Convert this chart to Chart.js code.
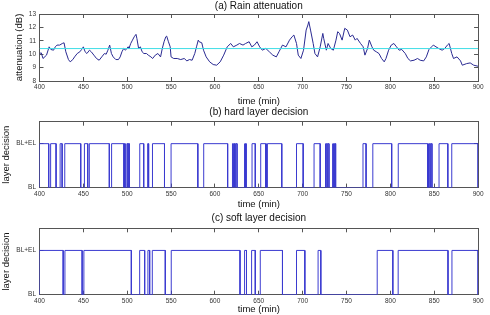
<!DOCTYPE html>
<html>
<head>
<meta charset="utf-8">
<script src="https://cdn.jsdelivr.net/npm/chart.js@4"></script>
<style>
  body { margin: 0; background: #fff; }
  canvas { position: absolute; left: 0; }
</style>
</head>
<body>
<canvas id="chart-a" width="490" height="107" style="top:0px"></canvas>
<canvas id="chart-b" width="490" height="103" style="top:107px"></canvas>
<canvas id="chart-c" width="490" height="105" style="top:210px"></canvas>
<script>
// (a) rain attenuation
const rainTime = [
    400, 402, 404, 408, 411, 413, 416, 418, 420, 423,
    426, 428, 430, 433, 435, 438, 440, 443, 446, 448,
    450, 452, 454, 457, 459, 462, 465, 468, 471, 474,
    476, 478, 480, 482, 484, 487, 490, 492, 494, 496,
    498, 501, 502, 504, 506, 508, 510, 511, 513, 515,
    517, 519, 522, 524, 527, 529, 532, 535, 538, 540,
    542, 544, 545, 547, 549, 550, 553, 557, 561, 565,
    568, 571, 574, 577, 579, 581, 582, 585, 587, 590,
    594, 598, 602, 606, 610, 614, 618, 621, 625, 628,
    632, 635, 639, 642, 645, 648, 651, 654, 658, 662,
    666, 670, 673, 677, 681, 685, 688, 690, 693, 695,
    698, 701, 704, 706, 707, 709, 712, 714, 717, 720,
    723, 724, 727, 729, 732, 735, 738, 740, 742, 745,
    748, 751, 754, 757, 760, 762, 766, 769, 771, 774,
    776, 779, 781, 784, 787, 790, 793, 795, 798, 801,
    804, 807, 810, 813, 817, 820, 823, 827, 831, 834,
    838, 841, 844, 847, 849, 852, 855, 859, 862, 865,
    867, 870, 872, 876, 880, 882, 887, 891, 895, 900
];
const rainDb = [
    10.05, 10.1, 9.68, 9.93, 10.55, 10.35, 10.3, 10.55, 10.68, 10.68,
    10.8, 10.85, 10.18, 9.6, 9.43, 9.6, 9.8, 10.05, 10.18, 10.35,
    10.55, 10.18, 10.05, 10.3, 10.18, 9.93, 9.68, 9.55, 9.8, 10.05,
    10.0, 10.3, 10.68, 10.05, 9.8, 9.6, 9.6, 9.8, 10.18, 10.43,
    10.3, 10.55, 10.43, 10.8, 11.05, 11.3, 11.48, 11.18, 10.43, 10.55,
    10.18, 10.05, 10.05, 9.93, 9.8, 9.68, 9.93, 10.05, 9.8, 10.43,
    10.93, 11.3, 11.35, 10.93, 10.55, 9.8, 9.68, 9.68, 9.6, 9.68,
    9.5, 9.6, 9.55, 10.05, 10.55, 11.05, 10.93, 10.85, 10.3, 9.8,
    9.43, 9.23, 9.18, 9.43, 9.93, 10.55, 10.8, 10.55, 10.68, 10.8,
    10.68, 10.8, 10.93, 10.55, 10.68, 10.93, 10.55, 10.3, 10.43, 10.18,
    9.93, 9.8, 10.18, 10.68, 10.55, 11.05, 11.3, 11.43, 10.8, 9.93,
    9.68, 10.3, 11.8, 12.18, 12.43, 11.8, 10.8, 10.05, 9.8, 10.55,
    11.55, 11.18, 10.3, 10.8, 10.43, 10.3, 11.05, 11.68, 11.55, 11.05,
    11.93, 11.8, 11.3, 11.43, 11.05, 11.18, 10.8, 10.55, 9.93, 10.43,
    11.05, 10.55, 10.3, 10.18, 10.05, 9.68, 9.43, 9.68, 10.3, 10.68,
    10.8, 10.55, 10.3, 10.35, 10.05, 9.68, 9.5, 9.55, 9.68, 9.55,
    9.5, 9.8, 10.35, 10.55, 10.68, 10.55, 10.43, 10.3, 10.43, 10.68,
    10.8, 10.05, 9.68, 9.8, 9.5, 9.18, 9.3, 9.35, 9.18, 9.1
];
const threshold = 10.42;

// (b) hard decision: intervals where BL+EL is sent
const hardStart = [400, 412.7, 423.5, 428.8, 451.2, 456.8, 482.2, 497, 499.6, 501.2,
    514.3, 523.3, 528.8, 550, 587.2, 620, 621.6, 623.4, 633.4, 634.8,
    642.3, 652.2, 658.4, 659.8, 693, 713, 725.6, 727, 728.4, 733.8,
    735.2, 736.6, 768.8, 780, 809, 843, 844.4, 845.8, 855.5, 870];
const hardEnd = [410.5, 418.9, 425.8, 447, 455, 479.6, 496.2, 497.6, 500.8, 502.4,
    518.8, 524.4, 542.5, 580.5, 614.5, 620.8, 622.4, 625.2, 634.2, 635.6,
    646, 657.8, 659.2, 676.2, 700.6, 720, 726.4, 727.8, 730, 734.6,
    736, 737.6, 772.3, 801.5, 842.4, 843.8, 845.2, 847.4, 865.5, 900];

// (c) soft decision
const softStart = [400, 429, 450.6, 514.2, 523.6, 528.6, 550.2, 633.8, 641.8, 651.7,
    693, 717.6, 785, 808.9, 870.2];
const softEnd = [427, 448.6, 504.7, 519.9, 525.6, 543.4, 628.6, 636, 646, 677,
    702.5, 720.7, 802.8, 865.7, 900];

const timeMin = 400, timeMax = 900, timeStep = 50;
const layerTicks = [0, 1];
const layerLabels = ['BL', 'BL+EL'];

const FONT = "'Liberation Sans', Arial, sans-serif";
const FRAME = '#555';
const tickFont = { family: FONT, size: 6.5 };
const labelFont = { family: FONT, size: 9.5 };

const pulsesToPoints = (starts, ends) => {
    const pts = [];
    starts.forEach((s, i) => {
        pts.push({ x: s, y: 0 }, { x: s, y: 1 }, { x: ends[i], y: 1 }, { x: ends[i], y: 0 });
    });
    return pts;
};

const grid = { drawOnChartArea: false, drawTicks: true, tickLength: -4, color: FRAME, lineWidth: 1 };
const border = { color: FRAME, width: 1 };

const makeScales = (cfg) => {
    const yTicks = cfg.layer
        ? { font: tickFont, color: '#333', padding: 7.5, callback: (v, i) => layerLabels[i] }
        : { font: tickFont, color: '#333', padding: 7.5, stepSize: 1 };
    const fixTicks = cfg.layer ? (scale) => { scale.ticks = layerTicks.map(v => ({ value: v })); } : undefined;
    return {
        x: {
            type: 'linear', position: 'bottom', min: timeMin, max: timeMax,
            ticks: { stepSize: timeStep, font: tickFont, color: '#333', padding: 6.5, maxRotation: 0 },
            grid, border,
            title: { display: true, text: 'time (min)', font: labelFont, color: '#111', padding: { top: 0, bottom: cfg.xTitlePad } },
            afterFit: (scale) => { scale.height = cfg.xHeight; }
        },
        x2: {
            type: 'linear', position: 'top', axis: 'x', min: timeMin, max: timeMax,
            ticks: { stepSize: timeStep, display: false },
            grid, border,
            afterFit: (scale) => { scale.height = 0; }
        },
        y: {
            type: 'linear', position: 'left', min: cfg.yMin, max: cfg.yMax,
            ticks: yTicks, grid, border,
            afterBuildTicks: fixTicks,
            title: { display: true, text: cfg.yTitle, font: labelFont, color: '#111', padding: { top: cfg.yTitlePad, bottom: 0 } },
            afterFit: (scale) => { scale.width = 39.5; }
        },
        y2: {
            type: 'linear', position: 'right', axis: 'y', min: cfg.yMin, max: cfg.yMax,
            ticks: { stepSize: 1, display: false }, grid, border,
            afterBuildTicks: fixTicks,
            afterFit: (scale) => { scale.width = 0; }
        }
    };
};

const makeChart = (id, datasets, title, titlePad, scaleCfg) => new Chart(document.getElementById(id), {
    type: 'line',
    data: { datasets },
    options: {
        responsive: false,
        animation: false,
        layout: { padding: { left: 0, right: 11, top: 0, bottom: 0 } },
        elements: { point: { radius: 0 }, line: { borderWidth: 1, tension: 0 } },
        plugins: {
            legend: { display: false },
            tooltip: { enabled: false },
            title: {
                display: true, text: title, fullSize: false, color: '#111',
                font: { family: FONT, size: 10, weight: 'normal', lineHeight: 1.1 },
                padding: titlePad
            }
        },
        scales: makeScales(scaleCfg)
    }
});

makeChart('chart-a', [
    {
        data: [{ x: timeMin, y: threshold }, { x: timeMax, y: threshold }],
        borderColor: '#3fdde6'
    },
    {
        data: rainTime.map((t, i) => ({ x: t, y: rainDb[i] })),
        borderColor: '#2a2a92'
    }
], '(a) Rain attenuation', { top: 0.5, bottom: 2.5 },
    { yMin: 8, yMax: 13, yTitle: 'attenuation (dB)', yTitlePad: 13.3, xHeight: 26, xTitlePad: 0.3 });

makeChart('chart-b', [
    { data: pulsesToPoints(hardStart, hardEnd), borderColor: '#3b3bd0' }
], '(b) hard layer decision', { top: 0, bottom: 3.7 },
    { yMin: 0, yMax: 1.5, layer: true, yTitle: 'layer decision', yTitlePad: 0.3, xHeight: 22.4, xTitlePad: 0.3 });

makeChart('chart-c', [
    { data: pulsesToPoints(softStart, softEnd), borderColor: '#3b3bd0' }
], '(c) soft layer decision', { top: 2.8, bottom: 4.5 },
    { yMin: 0, yMax: 1.5, layer: true, yTitle: 'layer decision', yTitlePad: 0.3, xHeight: 20.3, xTitlePad: 0 });
</script>
</body>
</html>
